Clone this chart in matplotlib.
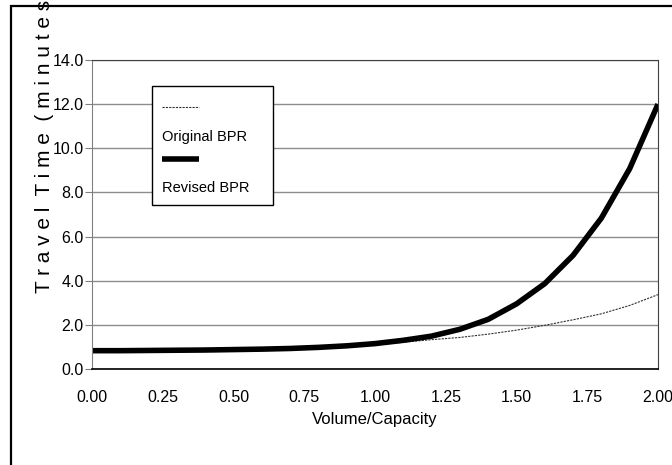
import matplotlib
matplotlib.use('Agg')
import matplotlib.pyplot as plt
from matplotlib.patches import Rectangle
from matplotlib.lines import Line2D

plt.rcParams['font.family'] = ['Liberation Sans', 'DejaVu Sans']

# volume/capacity ratio, read every 0.1
vc_ratio = [0.0, 0.1, 0.2, 0.3, 0.4, 0.5, 0.6, 0.7, 0.8, 0.9, 1.0,
            1.1, 1.2, 1.3, 1.4, 1.5, 1.6, 1.7, 1.8, 1.9, 2.0]
original_bpr = [0.84, 0.84, 0.84, 0.85, 0.86, 0.87, 0.89, 0.92, 0.96, 1.02, 1.10,
                1.21, 1.33, 1.43, 1.58, 1.76, 1.98, 2.23, 2.50, 2.88, 3.37]
revised_bpr = [0.83, 0.83, 0.84, 0.85, 0.86, 0.88, 0.90, 0.93, 0.98, 1.05, 1.15,
               1.30, 1.49, 1.80, 2.25, 2.95, 3.87, 5.15, 6.84, 9.08, 12.0]
x_ticks = [0.00, 0.25, 0.50, 0.75, 1.00, 1.25, 1.50, 1.75, 2.00]
y_ticks = [0, 2, 4, 6, 8, 10, 12, 14]

W, H = 672, 465
fig = plt.figure(figsize=(W / 100, H / 100), dpi=100)

# chart area border (runs off the right and bottom edges)
fig.add_artist(Rectangle((11 / W, -0.1), 1.2, 1.1 - 6 / H, fill=False,
                         edgecolor='black', lw=1.6, transform=fig.transFigure))

ax = fig.add_axes([92 / W, 1 - 369 / H, 566 / W, 309 / H])
ax.plot(vc_ratio, original_bpr, color='#333333', lw=0.8, ls=(0, (2, 1)))
ax.plot(vc_ratio, revised_bpr, color='black', lw=4, solid_capstyle='butt')

ax.set_xlim(0, 2)
ax.set_ylim(0, 14)
ax.set_xticks(x_ticks)
ax.set_xticklabels(['%.2f' % v for v in x_ticks], fontsize=11.5)
ax.set_yticks(y_ticks)
ax.set_yticklabels(['%.1f' % v for v in y_ticks], fontsize=11.5)
ax.yaxis.grid(True, color='#8c8c8c', lw=1)
ax.set_axisbelow(True)
ax.tick_params(axis='x', length=0, pad=15)
ax.tick_params(axis='y', length=5, color='#808080', pad=1)
ax.spines['left'].set_color('#808080')
ax.spines['bottom'].set_color('black')
ax.spines['bottom'].set_linewidth(1.2)
ax.spines['top'].set_color('#404040')
ax.spines['right'].set_color('#404040')
ax.set_xlabel('Volume/Capacity', fontsize=12, labelpad=5)

# axis title is wider than the chart area and runs past the top border
fig.text(45 / W, 1 - 140 / H, 'T r a v e l  T i m e  ( m i n u t e s )',
         rotation=90, ha='center', va='center', fontsize=15)

# legend box, text under each sample as in the original
fig.add_artist(Rectangle((152 / W, 1 - 205 / H), 121 / W, 119 / H, facecolor='white',
                         edgecolor='black', lw=1, transform=fig.transFigure, zorder=5))
fig.add_artist(Line2D([162 / W, 199 / W], [1 - 107 / H] * 2, color='#333333', lw=0.8,
                      ls=(0, (2, 1)), transform=fig.transFigure, zorder=6))
fig.add_artist(Line2D([162 / W, 199 / W], [1 - 159 / H] * 2, color='black', lw=4,
                      solid_capstyle='butt', transform=fig.transFigure, zorder=6))
fig.text(162 / W, 1 - 141 / H, 'Original BPR', ha='left', va='baseline', fontsize=10.5, zorder=6)
fig.text(162 / W, 1 - 192 / H, 'Revised BPR', ha='left', va='baseline', fontsize=10.5, zorder=6)

plt.savefig('out.png', dpi=100)
